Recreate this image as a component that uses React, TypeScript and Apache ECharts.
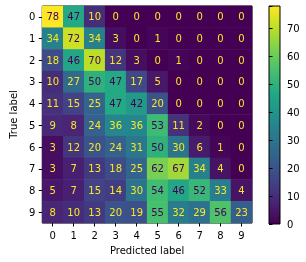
import React, { useEffect, useRef } from "react";
import * as echarts from "echarts";

const xCategories = ["0", "1", "2", "3", "4", "5", "6", "7", "8", "9"];
const yCategories = ["0", "1", "2", "3", "4", "5", "6", "7", "8", "9"];
const matrix: number[][] = [
  [78, 47, 10, 0, 0, 0, 0, 0, 0, 0],
  [34, 72, 34, 3, 0, 1, 0, 0, 0, 0],
  [18, 46, 70, 12, 3, 0, 1, 0, 0, 0],
  [10, 27, 50, 47, 17, 5, 0, 0, 0, 0],
  [11, 15, 25, 47, 42, 20, 0, 0, 0, 0],
  [9, 8, 24, 36, 36, 53, 11, 2, 0, 0],
  [3, 12, 20, 24, 31, 50, 30, 6, 1, 0],
  [3, 7, 13, 18, 25, 62, 67, 34, 4, 0],
  [5, 7, 15, 14, 30, 54, 46, 52, 33, 4],
  [8, 10, 13, 20, 19, 55, 32, 29, 56, 23],
];
const colorbarTicks = [0, 10, 20, 30, 40, 50, 60, 70];

const viridis = [
  "#440154", "#482475", "#414487", "#355f8d", "#2a788e", "#21918c",
  "#22a884", "#44bf70", "#7ad151", "#bddf26", "#fde725",
];

export default function App() {
  const ref = useRef<HTMLDivElement>(null);
  useEffect(() => {
    if (!ref.current) return;
    const chart = echarts.init(ref.current, null, { renderer: "svg" });
    let vmax = 0;
    matrix.forEach((r) => r.forEach((v) => (vmax = Math.max(vmax, v))));
    const thresh = vmax / 2;
    const data: any[] = [];
    matrix.forEach((row, i) =>
      row.forEach((v, j) => {
        data.push({
          value: [j, i, v],
          label: { color: v > thresh ? viridis[0] : viridis[10] },
        });
      })
    );
    const font = "DejaVu Sans";
    const gradient = new echarts.graphic.LinearGradient(
      0, 1, 0, 0,
      viridis.map((c, k) => ({ offset: k / (viridis.length - 1), color: c }))
    );
    chart.setOption({
      animation: false,
      textStyle: { fontFamily: font },
      grid: [
        { left: 35, top: 6, width: 217, height: 217, show: true, borderColor: "#000", borderWidth: 1, backgroundColor: "transparent" },
        { left: 269, top: 6, width: 11, height: 218, show: true, borderColor: "#000", borderWidth: 1, backgroundColor: gradient },
      ],
      xAxis: [
        {
          type: "category",
          data: xCategories,
          gridIndex: 0,
          position: "bottom",
          name: "Predicted label",
          nameLocation: "middle",
          nameGap: 22,
          nameTextStyle: { fontSize: 10, color: "#000", fontFamily: font },
          axisLine: { show: false },
          axisTick: { show: true, alignWithLabel: true, length: 3.5, lineStyle: { color: "#000" } },
          axisLabel: { fontSize: 10, color: "#000", margin: 7, fontFamily: font },
          splitLine: { show: false },
        },
        {
          type: "value",
          gridIndex: 1,
          show: false,
        },
      ],
      yAxis: [
        {
          type: "category",
          data: yCategories,
          inverse: true,
          gridIndex: 0,
          name: "True label",
          nameLocation: "middle",
          nameGap: 20,
          nameRotate: 90,
          nameTextStyle: { fontSize: 10, color: "#000", fontFamily: font },
          axisLine: { show: false },
          axisTick: { show: true, alignWithLabel: true, length: 3.5, lineStyle: { color: "#000" } },
          axisLabel: { fontSize: 10, color: "#000", margin: 7, fontFamily: font },
          splitLine: { show: false },
        },
        {
          type: "value",
          gridIndex: 1,
          min: 0,
          max: vmax,
          interval: 10,
          position: "right",
          axisLine: { show: false },
          axisTick: { show: true, length: 3.5, lineStyle: { color: "#000" } },
          axisLabel: {
            fontSize: 10, color: "#000", margin: 7, fontFamily: font,
            formatter: (v: number) => (colorbarTicks.includes(v) ? String(v) : ""),
          },
          splitLine: { show: false },
        },
      ],
      visualMap: {
        show: false,
        min: 0,
        max: vmax,
        seriesIndex: 0,
        dimension: 2,
        inRange: { color: viridis },
      },
      series: [
        {
          type: "heatmap",
          xAxisIndex: 0,
          yAxisIndex: 0,
          data,
          label: { show: true, fontSize: 10, fontFamily: font },
          itemStyle: { borderWidth: 0 },
          emphasis: { disabled: true },
        },
      ],
    });
    return () => chart.dispose();
  }, []);
  return (
    <div
      ref={ref}
      style={{ position: "fixed", left: 0, top: 0, width: 306, height: 262 }}
    />
  );
}
